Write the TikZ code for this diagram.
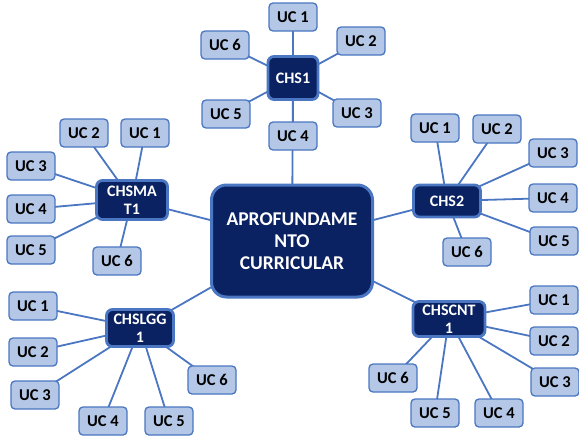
\documentclass[tikz,border=0pt]{standalone}
\usepackage{fontspec}
\setmainfont{Carlito}
\usetikzlibrary{backgrounds}

\definecolor{navy}{HTML}{0A2162}
\definecolor{edgeblue}{HTML}{4A76C2}
\definecolor{ucfill}{HTML}{B4C7E7}

\tikzset{
    hub/.style={draw=edgeblue, fill=navy, line width=3pt, rounded corners=15pt, text=white, align=center,
        font=\fontsize{19.5}{22}\selectfont\bfseries, minimum width=161pt, minimum height=112pt, inner sep=0pt},
    chs/.style={draw=edgeblue, fill=navy, line width=2.8pt, rounded corners=6pt, text=white, align=center,
        font=\fontsize{16}{18}\selectfont\bfseries, inner sep=0pt},
    uc/.style={draw=edgeblue, fill=ucfill, line width=1.3pt, rounded corners=4pt, text=black,
        font=\fontsize{16.5}{18}\selectfont\bfseries, minimum width=48pt, minimum height=28pt, inner sep=0pt},
    link/.style={draw=edgeblue, line width=1.8pt}
}

\begin{document}
\begin{tikzpicture}[x=1pt, y=-1pt]
        \useasboundingbox (0,0) rectangle (579,437);

        \node[hub] (hub) at (292,241) {APROFUNDAME\\NTO\\CURRICULAR};

        \node[chs, minimum width=50pt, minimum height=43pt] (chsone) at (293,78) {CHS1};
        \node[chs, minimum width=71pt, minimum height=39pt] (chsmat) at (132,200) {CHSMA\\T1};
        \node[chs, minimum width=67pt, minimum height=32pt] (chstwo) at (447,201) {CHS2};
        \node[chs, minimum width=67pt, minimum height=37pt] (chslgg) at (140,328) {CHSLGG\\1};
        \node[chs, minimum width=72pt, minimum height=35pt] (chscnt) at (449,319) {CHSCNT\\1};

        % CHS1
        \node[uc] (chsone-1) at (293,17) {UC 1};
        \node[uc] (chsone-2) at (361,41) {UC 2};
        \node[uc] (chsone-3) at (357,113) {UC 3};
        \node[uc] (chsone-4) at (293,136) {UC 4};
        \node[uc] (chsone-5) at (226,114) {UC 5};
        \node[uc] (chsone-6) at (225,45) {UC 6};

        % CHSMAT1
        \node[uc] (chsmat-1) at (145,133) {UC 1};
        \node[uc] (chsmat-2) at (84,133) {UC 2};
        \node[uc] (chsmat-3) at (31,166) {UC 3};
        \node[uc] (chsmat-4) at (31,209) {UC 4};
        \node[uc] (chsmat-5) at (31,250) {UC 5};
        \node[uc] (chsmat-6) at (117,261) {UC 6};

        % CHS2
        \node[uc] (chstwo-1) at (435,128) {UC 1};
        \node[uc] (chstwo-2) at (497,129) {UC 2};
        \node[uc] (chstwo-3) at (553,153) {UC 3};
        \node[uc] (chstwo-4) at (553,198) {UC 4};
        \node[uc] (chstwo-5) at (554,241) {UC 5};
        \node[uc] (chstwo-6) at (467,252) {UC 6};

        % CHSLGG1
        \node[uc] (chslgg-1) at (33,306) {UC 1};
        \node[uc] (chslgg-2) at (33,352) {UC 2};
        \node[uc] (chslgg-3) at (35,395) {UC 3};
        \node[uc] (chslgg-4) at (103,421) {UC 4};
        \node[uc] (chslgg-5) at (169,421) {UC 5};
        \node[uc] (chslgg-6) at (212,380) {UC 6};

        % CHSCNT1
        \node[uc] (chscnt-1) at (554,300) {UC 1};
        \node[uc] (chscnt-2) at (554,341) {UC 2};
        \node[uc] (chscnt-3) at (555,382) {UC 3};
        \node[uc] (chscnt-4) at (499,413) {UC 4};
        \node[uc] (chscnt-5) at (435,413) {UC 5};
        \node[uc] (chscnt-6) at (393,378) {UC 6};

        \begin{scope}[on background layer]
            \draw[link] (hub.center) -- (chsone.center) (hub.center) -- (chsmat.center) (hub.center) -- (chstwo.center)
                (hub.center) -- (chslgg.center) (hub.center) -- (chscnt.center);
            \foreach \hubname in {chsone, chsmat, chstwo, chslgg, chscnt}
                \foreach \i in {1,...,6}
                    \draw[link] (\hubname.center) -- (\hubname-\i.center);
        \end{scope}
    \end{tikzpicture}
\end{document}
